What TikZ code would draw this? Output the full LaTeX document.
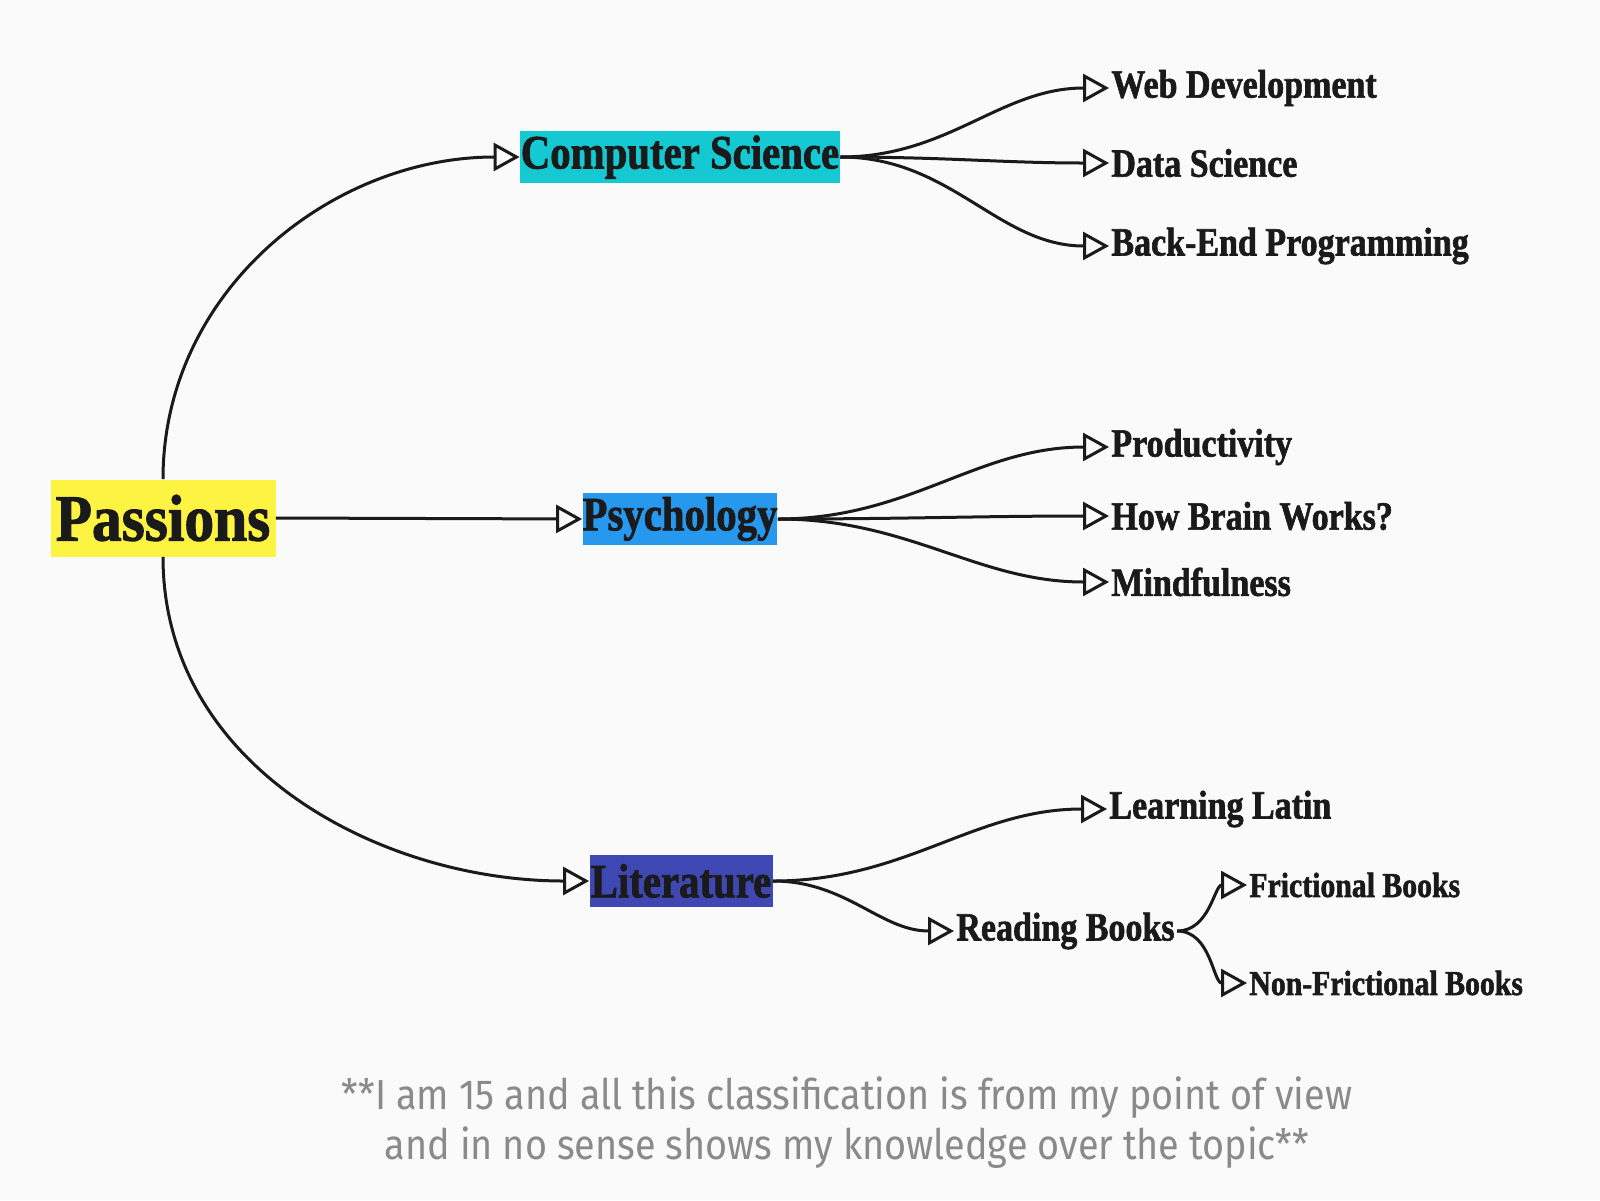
\documentclass[tikz,border=0pt]{standalone}
\usepackage{fontspec}
\usetikzlibrary{arrows.meta}

\newfontfamily\headfont[FakeStretch=0.85, FakeBold=1.5]{Liberation Serif}
\newfontfamily\rootfont[FakeStretch=0.9, FakeBold=1.5]{Liberation Serif}
\newfontfamily\notefont[FakeStretch=0.9]{Fira Sans}

\definecolor{bgcol}{HTML}{FAFAFA}
\definecolor{passcol}{HTML}{FDF342}
\definecolor{cscol}{HTML}{14C9D1}
\definecolor{psycol}{HTML}{2699EE}
\definecolor{litcol}{HTML}{3F47B3}
\definecolor{inkcol}{HTML}{1A1A1A}
\definecolor{notecol}{HTML}{8A8A8A}

\tikzset{
    topic/.style={fill=#1, text=inkcol, inner sep=0pt, minimum height=26pt,
        font=\headfont\bfseries\fontsize{24}{24}\selectfont},
    leaf/.style={anchor=west, inner sep=1pt, text=inkcol,
        font=\headfont\bfseries\fontsize{20}{20}\selectfont},
    link/.style={-{Triangle[open,length=13pt,width=14pt,line width=1.5pt]}, line width=1.5pt, inkcol},
}

\begin{document}
\begin{tikzpicture}[x=0.5pt, y=-0.5pt]

    % Background
    \fill[bgcol] (0,0) rectangle (1600,1200);
    \useasboundingbox (0,0) rectangle (1600,1200);

    % Root
    \node[topic=passcol, minimum width=112.5pt, minimum height=38.5pt,
        font=\rootfont\bfseries\fontsize{33}{33}\selectfont] (passions) at (163,518) {Passions};

    % Topics
    \node[topic=cscol, minimum width=160pt] (cs) at (680,157) {Computer Science};
    \node[topic=psycol, minimum width=96.5pt] (psy) at (680,519) {Psychology};
    \node[topic=litcol, minimum width=91.5pt] (lit) at (681,881) {Literature};

    % Leaves
    \node[leaf] (web) at (1109,88) {Web Development};
    \node[leaf] (data) at (1109,163) {Data Science};
    \node[leaf] (backend) at (1109,246) {Back-End Programming};

    \node[leaf] (prod) at (1109,447) {Productivity};
    \node[leaf] (brain) at (1109,516) {How Brain Works?};
    \node[leaf] (mind) at (1109,582) {Mindfulness};

    \node[leaf] (latin) at (1107,809) {Learning Latin};
    \node[leaf] (reading) at (954,931) {Reading Books};
    \node[leaf, font=\headfont\bfseries\fontsize{17.5}{17.5}\selectfont] (fict) at (1247,885) {Frictional Books};
    \node[leaf, font=\headfont\bfseries\fontsize{17.5}{17.5}\selectfont] (nonfict) at (1247,983) {Non-Frictional Books};

    % Root connectors
    \draw[link] (passions.north) to[out=90, in=180] (cs.west);
    \draw[link] (passions.east) -- (psy.west);
    \draw[link] (passions.south) to[out=-90, in=180] (lit.west);

    % Branches
    \foreach \leafname in {web, data, backend}
        \draw[link] (cs.east) to[out=0, in=180] (\leafname.west);
    \foreach \leafname in {prod, brain, mind}
        \draw[link] (psy.east) to[out=0, in=180] (\leafname.west);
    \foreach \leafname in {latin, reading}
        \draw[link] (lit.east) to[out=0, in=180] (\leafname.west);
    \foreach \leafname in {fict, nonfict}
        \draw[link] (reading.east) to[out=0, in=180] (\leafname.west);

    % Note
    \node[text=notecol, align=center, font=\notefont\fontsize{21}{25}\selectfont] (note) at (847,1123)
        {**I am 15 and all this classification is from my point of view\\
         and in no sense shows my knowledge over the topic**};

\end{tikzpicture}
\end{document}
